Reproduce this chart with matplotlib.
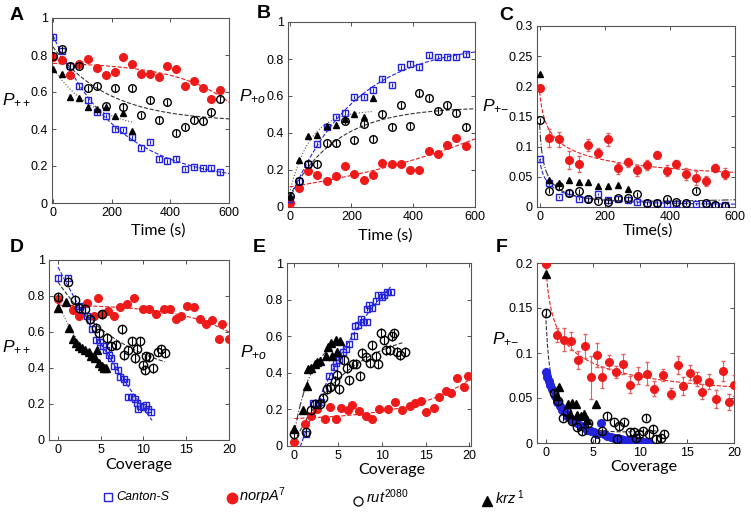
import numpy as np
import matplotlib.pyplot as plt
from matplotlib.ticker import FuncFormatter

plt.rcParams['font.family'] = ['Liberation Sans', 'DejaVu Sans']
plt.rcParams['mathtext.fontset'] = 'custom'
plt.rcParams['mathtext.rm'] = 'Liberation Sans'
plt.rcParams['mathtext.it'] = 'Liberation Sans:italic'

BLUE = '#2323dd'
RED = '#ee1a1a'

# time points (s)
time_s = [0, 30, 60, 90, 120, 150, 180, 210, 240, 270,
          300, 330, 360, 390, 420, 450, 480, 510, 540, 570]
time_krz = time_s[:10]

# panel A: P++ vs time
a_canton = [0.895, 0.82, 0.74, 0.63, 0.555, 0.49, 0.47, 0.40, 0.395, 0.355,
            0.30, 0.33, 0.24, 0.225, 0.24, 0.185, 0.195, 0.19, 0.19, 0.165]
a_norpa = [0.79, 0.775, 0.69, 0.75, 0.78, 0.73, 0.69, 0.71, 0.79, 0.75,
           0.70, 0.70, 0.68, 0.74, 0.725, 0.635, 0.66, 0.62, 0.56, 0.61]
a_rut = [0.795, 0.83, 0.74, 0.74, 0.62, 0.63, 0.525, 0.62, 0.52, 0.62,
         0.475, 0.555, 0.45, 0.545, 0.38, 0.41, 0.45, 0.445, 0.49, 0.56]
a_krz = [0.725, 0.70, 0.575, 0.565, 0.52, 0.51, 0.52, 0.47, 0.485, 0.39]

# panel B: P+o vs time
b_canton = [0.045, 0.14, 0.235, 0.34, 0.43, 0.485, 0.51, 0.595, 0.595, 0.63,
            0.69, 0.66, 0.755, 0.775, 0.755, 0.82, 0.81, 0.81, 0.81, 0.825]
b_norpa = [0.02, 0.10, 0.195, 0.175, 0.14, 0.165, 0.22, 0.18, 0.145, 0.175,
           0.24, 0.23, 0.235, 0.20, 0.20, 0.305, 0.285, 0.335, 0.375, 0.33]
b_rut = [0.06, 0.14, 0.235, 0.235, 0.345, 0.345, 0.465, 0.36, 0.45, 0.37,
         0.505, 0.435, 0.55, 0.44, 0.615, 0.59, 0.52, 0.55, 0.51, 0.435]
b_krz = [0.06, 0.255, 0.385, 0.39, 0.44, 0.445, 0.475, 0.50, 0.485, 0.59]

# panel C: P+- vs time
c_canton = [0.08, 0.039, 0.017, 0.024, 0.014, 0.0125, 0.022, 0.011, 0.013, 0.011,
            0.0075, 0.0065, 0.0065, 0.0055, 0.0055, 0.005, 0.005, 0.005, 0.004, 0.004]
c_norpa = [0.197, 0.115, 0.112, 0.078, 0.071, 0.102, 0.090, 0.112, 0.064, 0.074,
           0.061, 0.070, 0.087, 0.060, 0.071, 0.055, 0.048, 0.043, 0.065, 0.055]
c_norpa_err = [0.004, 0.015, 0.012, 0.015, 0.013, 0.01, 0.007, 0.011, 0.009, 0.008,
               0.009, 0.008, 0.006, 0.009, 0.007, 0.01, 0.011, 0.009, 0.007, 0.009]
c_rut = [0.144, 0.027, 0.034, 0.024, 0.026, 0.013, 0.010, 0.009, 0.015, 0.015,
         0.021, 0.0065, 0.006, 0.013, 0.0075, 0.0065, 0.027, 0.0065, 0.004, 0.001]
c_krz = [0.22, 0.045, 0.039, 0.045, 0.041, 0.042, 0.035, 0.035, 0.037, 0.030]

# panel D: P++ vs coverage
d_canton_x = [0, 1.2, 2.5, 2.85, 3.4, 3.7, 4.0, 4.5, 4.9, 5.3, 5.65, 5.95, 6.2, 6.6,
              7.0, 7.3, 7.7, 7.9, 8.2, 8.6, 9.0, 9.2, 9.4, 9.55, 9.95, 10.25, 10.5, 10.9]
d_canton_y = [0.90, 0.90, 0.745, 0.725, 0.69, 0.665, 0.615, 0.555, 0.545, 0.52, 0.50, 0.47,
              0.455, 0.41, 0.39, 0.35, 0.34, 0.325, 0.24, 0.24, 0.23, 0.205, 0.175, 0.19,
              0.185, 0.195, 0.175, 0.155]
d_norpa_x = [0, 1.8, 2.5, 3.4, 4.2, 4.7, 5.2, 5.8, 6.6, 7.3, 8.1, 8.9, 9.9, 10.7, 11.5,
             12.4, 13.1, 13.8, 14.4, 15.1, 15.9, 16.6, 17.3, 18.0, 18.8, 19.2, 20.0]
d_norpa_y = [0.785, 0.72, 0.69, 0.76, 0.69, 0.79, 0.70, 0.715, 0.69, 0.74, 0.755, 0.79,
             0.73, 0.73, 0.70, 0.73, 0.73, 0.675, 0.69, 0.745, 0.74, 0.675, 0.645, 0.665,
             0.56, 0.645, 0.56]
d_rut_x = [0, 1.2, 1.95, 2.5, 3.2, 3.8, 4.4, 4.8, 5.2, 5.7, 6.2, 6.8, 7.5, 7.7, 8.2, 8.6,
           9.0, 9.2, 9.55, 9.95, 10.2, 10.3, 10.6, 11.1, 11.7, 12.1, 12.5]
d_rut_y = [0.795, 0.88, 0.78, 0.735, 0.73, 0.67, 0.625, 0.595, 0.70, 0.565, 0.52, 0.53,
           0.615, 0.47, 0.50, 0.55, 0.455, 0.505, 0.55, 0.415, 0.39, 0.465, 0.46, 0.40,
           0.49, 0.505, 0.485]
d_krz_x = [0, 0.9, 1.3, 1.8, 2.1, 2.5, 2.85, 3.2, 3.6, 3.9, 4.3, 4.55, 4.8, 5.1, 5.35, 5.6]
d_krz_y = [0.735, 0.765, 0.625, 0.56, 0.54, 0.52, 0.51, 0.50, 0.49, 0.465, 0.455, 0.50,
           0.43, 0.41, 0.40, 0.40]

# panel E: P+o vs coverage
e_canton_x = [1.3, 2.1, 2.7, 3.0, 4.0, 4.5, 4.8, 5.15, 5.6, 5.9, 6.3, 6.8, 6.95, 7.3, 7.6,
              7.9, 8.35, 8.35, 8.5, 8.9, 9.3, 9.6, 10.0, 10.3, 10.6, 11.0]
e_canton_y = [0.065, 0.235, 0.235, 0.24, 0.38, 0.43, 0.455, 0.47, 0.515, 0.53, 0.56, 0.60,
              0.655, 0.66, 0.695, 0.68, 0.68, 0.75, 0.77, 0.755, 0.795, 0.825, 0.815,
              0.825, 0.84, 0.84]
e_norpa_x = [0, 1.2, 1.9, 2.6, 3.5, 4.1, 4.8, 5.3, 6.1, 6.6, 7.4, 8.2, 8.9, 9.7, 10.7,
             11.5, 12.3, 13.2, 13.8, 14.5, 15.1, 16.0, 16.5, 17.3, 17.9, 18.6, 19.4, 19.9]
e_norpa_y = [0.02, 0.12, 0.165, 0.20, 0.15, 0.215, 0.145, 0.21, 0.195, 0.225, 0.19, 0.165,
             0.145, 0.20, 0.20, 0.24, 0.195, 0.22, 0.235, 0.245, 0.185, 0.205, 0.27, 0.30,
             0.29, 0.37, 0.32, 0.38]
e_rut_x = [0, 1.3, 1.9, 2.4, 2.9, 3.3, 3.7, 4.1, 4.6, 4.9, 5.15, 5.7, 6.0, 6.3, 6.65, 7.0,
           7.5, 7.7, 8.2, 8.6, 8.9, 9.3, 9.6, 9.95, 10.2, 10.5, 10.9, 11.2, 11.4, 11.7,
           12.1, 12.6]
e_rut_y = [0.065, 0.075, 0.195, 0.23, 0.23, 0.265, 0.31, 0.325, 0.355, 0.39, 0.31, 0.47,
           0.425, 0.36, 0.45, 0.45, 0.385, 0.51, 0.485, 0.455, 0.55, 0.49, 0.45, 0.62,
           0.58, 0.525, 0.525, 0.60, 0.615, 0.515, 0.495, 0.515]
e_krz_x = [0, 0.95, 1.4, 1.6, 1.95, 2.3, 2.6, 2.9, 3.6, 3.8, 4.2, 4.3, 4.8, 4.85, 5.2]
e_krz_y = [0.095, 0.195, 0.33, 0.42, 0.425, 0.45, 0.46, 0.465, 0.49, 0.54, 0.565, 0.49,
           0.58, 0.515, 0.575]

# panel F: P+- vs coverage
f_canton_x = [0, 0.14, 0.32, 0.5, 0.68, 0.93, 1.21, 1.5, 1.75, 2.0, 2.28, 2.64, 3.0,
              3.35, 3.71, 4.07, 4.42, 4.78, 5.13, 5.49, 5.85, 6.2, 6.56, 6.92, 7.27,
              7.63, 7.99, 8.34, 8.7, 9.06, 9.41, 9.77, 10.12, 10.48, 10.84]
f_canton_y = [0.079, 0.073, 0.069, 0.065, 0.06, 0.052, 0.046, 0.041, 0.037, 0.034, 0.030,
              0.027, 0.024, 0.022, 0.019, 0.018, 0.015, 0.013, 0.012, 0.0105, 0.022,
              0.0095, 0.0075, 0.0067, 0.0056, 0.0052, 0.0045, 0.0037, 0.0034, 0.003,
              0.0026, 0.0022, 0.0019, 0.0015, 0.001]
f_norpa_x = [0, 1.15, 1.9, 2.65, 3.4, 4.15, 4.8, 5.4, 6.0, 6.75, 7.45, 8.2, 9.0, 9.8,
             10.75, 11.55, 12.45, 13.3, 14.05, 14.6, 15.3, 16.1, 16.65, 17.35, 18.1,
             18.85, 19.45, 20.0]
f_norpa_y = [0.199, 0.12, 0.115, 0.113, 0.092, 0.108, 0.073, 0.098, 0.073, 0.09, 0.079,
             0.088, 0.065, 0.075, 0.077, 0.0605, 0.0755, 0.055, 0.087, 0.0635, 0.078,
             0.071, 0.057, 0.068, 0.049, 0.080, 0.0455, 0.064]
f_norpa_err = [0.002, 0.0075, 0.0125, 0.01, 0.01, 0.0135, 0.024, 0.0135, 0.012, 0.008,
               0.0065, 0.011, 0.009, 0.009, 0.013, 0.008, 0.0065, 0.0065, 0.01, 0.0097,
               0.0084, 0.0075, 0.0084, 0.0084, 0.01, 0.011, 0.0084, 0.012]
f_rut_x = [0, 0.85, 1.3, 1.85, 2.3, 2.8, 3.35, 3.9, 4.5, 5.2, 6.0, 6.55, 7.2, 7.55, 7.8,
           8.35, 8.9, 9.35, 9.6, 9.95, 10.3, 10.65, 11.0, 11.4, 11.75, 12.2, 12.55]
f_rut_y = [0.145, 0.056, 0.047, 0.028, 0.034, 0.024, 0.018, 0.013, 0.022, 0.003, 0.013,
           0.03, 0.023, 0.0045, 0.019, 0.023, 0.012, 0.012, 0.0055, 0.0095, 0.013, 0.028,
           0.0095, 0.0155, 0.0045, 0.0055, 0.0105]
f_krz_x = [0, 1.15, 1.4, 2.35, 2.55, 2.8, 3.2, 3.35, 3.7, 4.05, 4.4, 5.3]
f_krz_y = [0.188, 0.052, 0.062, 0.043, 0.032, 0.044, 0.043, 0.031, 0.03, 0.032, 0.026, 0.043]


def fit_log(x, y, x_end, off, deg=2):
    # smooth fit of y against log(x + off), for the sharp decays
    x = np.asarray(x, float)
    c = np.polyfit(np.log(x + off), np.asarray(y, float), deg)
    xs = np.linspace(0, x_end, 200)
    return xs, np.polyval(c, np.log(xs + off))


def fit_exp(x, y, x_end):
    # y = a + b*exp(-x/tau), tau picked on a grid (negative tau = growing exp)
    x = np.asarray(x, float)
    y = np.asarray(y, float)
    span = x.max()
    taus = np.concatenate([np.geomspace(0.05, 20, 300), -np.geomspace(0.3, 20, 200)]) * span
    best, best_err = None, np.inf
    for tau in taus:
        A = np.column_stack([np.ones_like(x), np.exp(-x / tau)])
        coef = np.linalg.lstsq(A, y, rcond=None)[0]
        err = np.sum((A @ coef - y) ** 2)
        if err < best_err:
            best, best_err = (coef, tau), err
    (a, b), tau = best
    xs = np.linspace(0, x_end, 200)
    return xs, a + b * np.exp(-xs / tau)


def style_axes(ax, xlim, ylim, yticks, xticks):
    ax.set_xlim(*xlim)
    ax.set_ylim(*ylim)
    ax.set_yticks(yticks)
    ax.set_xticks(xticks)
    ax.yaxis.set_major_formatter(FuncFormatter(lambda v, p: '%g' % v))
    ax.tick_params(direction='in', length=3, width=0.6, labelsize=9,
                   top=True, right=True, pad=3, colors='#333333', labelcolor='black')
    for s in ax.spines.values():
        s.set_color('#555555')
        s.set_linewidth(0.8)


def draw(ax, x, y, kind, ms, err=None, cap=0):
    if kind == 'canton':
        ax.errorbar(x, y, yerr=err, fmt='s', ms=ms, mfc='none', mec=BLUE, mew=1.0,
                    ecolor=BLUE, elinewidth=0.8, capsize=cap, zorder=4)
    elif kind == 'norpa':
        ax.errorbar(x, y, yerr=err, fmt='o', ms=ms, mfc=RED, mec=RED,
                    ecolor='#e06060', elinewidth=0.8, capsize=cap, zorder=3)
    elif kind == 'rut':
        ax.errorbar(x, y, yerr=err, fmt='o', ms=ms, mfc='none', mec='black', mew=1.0,
                    ecolor='black', elinewidth=0.8, capsize=cap, zorder=5)
    elif kind == 'krz':
        ax.errorbar(x, y, yerr=err, fmt='^', ms=ms, mfc='black', mec='black',
                    ecolor='black', elinewidth=0.8, capsize=cap, zorder=6)


def fit_line(ax, x, y, x_end, color, ls, off=None):
    if off is None:
        xs, ys = fit_exp(x, y, x_end)
    else:
        xs, ys = fit_log(x, y, x_end, off)
    ax.plot(xs, ys, color=color, ls=ls, lw=0.8, zorder=2)


fig = plt.figure(figsize=(7.51, 5.17), dpi=100)
W, H = 751.0, 517.0


def add_axes(x0, y0, x1, y1):
    return fig.add_axes([x0 / W, 1 - y1 / H, (x1 - x0) / W, (y1 - y0) / H])


axA = add_axes(52, 18, 229, 203)
axB = add_axes(288, 22, 475, 207)
axC = add_axes(537, 26, 735, 207)
axD = add_axes(49, 260, 229, 440)
axE = add_axes(287, 263, 471, 446)
axF = add_axes(537, 263, 734, 443)

# ---- A ----
draw(axA, time_s, a_norpa, 'norpa', 5.5)
draw(axA, time_s, a_canton, 'canton', 4.5, err=0.012)
draw(axA, time_s, a_rut, 'rut', 5.5, err=0.018)
draw(axA, time_krz, a_krz, 'krz', 5)
fit_line(axA, time_s, a_norpa, 600, RED, '--')
fit_line(axA, time_s, a_rut, 600, '#333333', '--')
fit_line(axA, time_s, a_canton, 600, BLUE, '--')
fit_line(axA, time_krz, a_krz, 270, '#555555', ':')
style_axes(axA, (-3, 600), (0, 1), [0, 0.2, 0.4, 0.6, 0.8, 1], [0, 200, 400, 600])

# ---- B ----
draw(axB, time_s, b_norpa, 'norpa', 5.5)
draw(axB, time_s, b_canton, 'canton', 4.5, err=0.012)
draw(axB, time_s, b_rut, 'rut', 5.5, err=0.018)
draw(axB, time_krz, b_krz, 'krz', 5)
fit_line(axB, time_s, b_norpa, 600, RED, '--')
fit_line(axB, time_s, b_rut, 600, '#333333', '--')
fit_line(axB, time_s, b_canton, 600, BLUE, '--')
fit_line(axB, time_krz, b_krz, 270, '#555555', ':')
style_axes(axB, (-5, 600), (0, 1), [0, 0.2, 0.4, 0.6, 0.8, 1], [0, 200, 400, 600])

# ---- C ----
draw(axC, time_s, c_norpa, 'norpa', 5.5, err=c_norpa_err, cap=1.5)
draw(axC, time_s, c_canton, 'canton', 4.5, err=0.002)
draw(axC, time_s, c_rut, 'rut', 5.5, err=0.004)
draw(axC, time_krz, c_krz, 'krz', 5)
fit_line(axC, time_s, c_norpa, 600, RED, '--', off=8)
fit_line(axC, time_s, c_canton, 600, BLUE, '--', off=8)
fit_line(axC, time_s, c_rut, 600, '#333333', '-.', off=5)
style_axes(axC, (-8, 600), (0, 0.3), [0, 0.05, 0.1, 0.15, 0.2, 0.25, 0.3], [0, 200, 400, 600])

# ---- D ----
draw(axD, d_norpa_x, d_norpa_y, 'norpa', 5.5)
draw(axD, d_canton_x, d_canton_y, 'canton', 5, err=0.015)
draw(axD, d_rut_x, d_rut_y, 'rut', 6, err=0.025)
draw(axD, d_krz_x, d_krz_y, 'krz', 5.5)
fit_line(axD, d_norpa_x, d_norpa_y, 20, RED, '--')
fit_line(axD, d_rut_x, d_rut_y, 12.5, '#333333', '--')
fit_line(axD, d_canton_x, d_canton_y, 11, BLUE, '--')
fit_line(axD, d_krz_x, d_krz_y, 5.6, '#555555', ':')
style_axes(axD, (-1.05, 20), (0, 1), [0, 0.2, 0.4, 0.6, 0.8, 1], [0, 5, 10, 15, 20])

# ---- E ----
draw(axE, e_norpa_x, e_norpa_y, 'norpa', 5.5)
draw(axE, e_canton_x, e_canton_y, 'canton', 5, err=0.015)
draw(axE, e_rut_x, e_rut_y, 'rut', 6, err=0.025)
draw(axE, e_krz_x, e_krz_y, 'krz', 5.5)
fit_line(axE, e_norpa_x, e_norpa_y, 20, RED, '--')
fit_line(axE, e_rut_x, e_rut_y, 12.5, '#333333', '--')
fit_line(axE, e_canton_x, e_canton_y, 11, BLUE, '--')
fit_line(axE, e_krz_x, e_krz_y, 5.6, '#333333', '-.')
style_axes(axE, (-0.85, 20.2), (0, 1), [0, 0.2, 0.4, 0.6, 0.8, 1], [0, 5, 10, 15, 20])

# ---- F ----
draw(axF, f_norpa_x, f_norpa_y, 'norpa', 5.5, err=f_norpa_err, cap=1.5)
axF.plot(f_canton_x, f_canton_y, 'o', ms=5.5, color=BLUE, zorder=3)
draw(axF, f_rut_x, f_rut_y, 'rut', 6, err=0.004)
draw(axF, f_krz_x, f_krz_y, 'krz', 5.5, err=0.003)
fit_line(axF, f_norpa_x, f_norpa_y, 20, RED, '--', off=0.3)
fit_line(axF, f_rut_x, f_rut_y, 12, '#333333', '--', off=0.3)
fit_line(axF, f_canton_x, f_canton_y, 11, BLUE, '--', off=0.5)
style_axes(axF, (-0.93, 20), (0, 0.2), [0, 0.05, 0.1, 0.15, 0.2], [0, 5, 10, 15, 20])

# y labels
ylabels = [(axA, r'$P_{++}$', -0.2, 0.56), (axB, r'$P_{+o}$', -0.19, 0.595),
           (axC, r'$P_{+\mathrm{-}}$', -0.21, 0.56), (axD, r'$P_{++}$', -0.18, 0.52),
           (axE, r'$P_{+o}$', -0.18, 0.51), (axF, r'$P_{+\mathrm{-}}$', -0.16, 0.58)]
for ax, lab, lx, ly in ylabels:
    ax.text(lx, ly, lab, transform=ax.transAxes, fontsize=12.5, ha='center', va='center')

# x labels
xlabels = [(axA, 'Time (s)', 0.6, -0.15), (axB, 'Time (s)', 0.52, -0.155),
           (axC, 'Time(s)', 0.56, -0.13), (axD, 'Coverage', 0.5, -0.14),
           (axE, 'Coverage', 0.57, -0.13), (axF, 'Coverage', 0.54, -0.135)]
for ax, lab, lx, ly in xlabels:
    ax.text(lx, ly, lab, transform=ax.transAxes, fontsize=11.5, ha='center',
            va='center', family='Lato')

# panel letters
for lab, px, py in [('A', 17, 15), ('B', 264, 14), ('C', 506, 15),
                    ('D', 17, 247), ('E', 259, 248), ('F', 502, 248)]:
    fig.text(px / W, 1 - py / H, lab, fontsize=14, fontweight='bold',
             ha='center', va='center')

# legend row
leg = fig.add_axes([0, 0, 1, 52 / H])
leg.set_xlim(0, W)
leg.set_ylim(517, 465)
leg.axis('off')
leg.plot([108], [497], 's', ms=6, mfc='none', mec=BLUE, mew=1.0)
leg.text(116, 497, 'Canton-S', fontsize=9, style='italic', va='center')
leg.plot([232], [498], 'o', ms=7.5, mfc=RED, mec=RED)
leg.text(239, 496, r'$\mathit{norpA}^{\mathit{7}}$', fontsize=10.5, va='center')
leg.plot([358], [501], 'o', ms=6.5, mfc='none', mec='black', mew=0.9)
leg.text(366, 497, r'$\mathit{rut}^{\mathit{2080}}$', fontsize=10.5, va='center')
leg.plot([487], [501], '^', ms=7.5, color='black')
leg.text(495, 498, r'$\mathit{krz}^{\ \mathit{1}}$', fontsize=10.5, va='center')

fig.savefig('out.png', dpi=100)
